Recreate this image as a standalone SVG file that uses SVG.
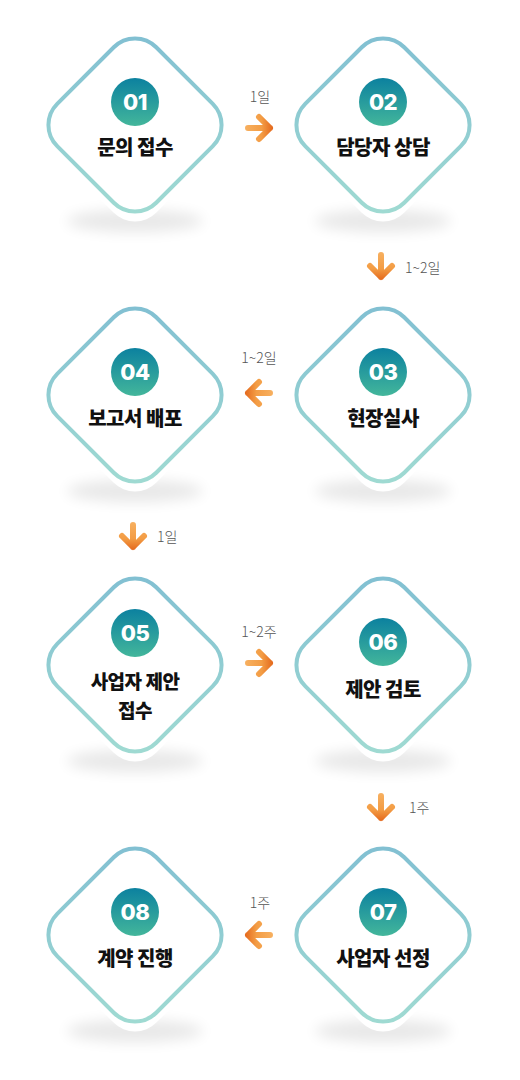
<svg xmlns="http://www.w3.org/2000/svg" xmlns:xlink="http://www.w3.org/1999/xlink" width="520" height="1080" viewBox="0 0 520 1080">
<style>
.num{font-family:Inter,"Open Sans","DejaVu Sans",sans-serif;font-weight:800;font-size:22px;fill:#fff;text-anchor:middle;letter-spacing:-0.5px}
.lbl{font-family:"Noto Sans CJK KR","Noto Sans",sans-serif;font-weight:900;font-size:20px;fill:#111;text-anchor:middle;letter-spacing:-0.5px}
.lbl2{font-size:19px}
.dur{font-family:"Noto Sans CJK KR","Noto Sans",sans-serif;font-weight:300;font-size:14px;fill:#555}
.arr{fill:none;stroke:url(#ag);stroke-width:6;stroke-linecap:round;stroke-linejoin:round}
.frame{fill:#fff;stroke:url(#sg);stroke-width:4}
</style>
<defs>
<path id="dia" d="M-21.21,-77.78 A30,30 0 0 1 21.21,-77.78 L77.78,-21.21 A30,30 0 0 1 77.78,21.21 L21.21,77.78 A30,30 0 0 1 -21.21,77.78 L-77.78,21.21 A30,30 0 0 1 -77.78,-21.21 Z"/>
<linearGradient id="sg" x1="0" y1="0" x2="0" y2="1">
<stop offset="0" stop-color="#82c0d2"/>
<stop offset="1" stop-color="#9fdad2"/>
</linearGradient>
<linearGradient id="cg" x1="0" y1="0" x2="0" y2="1">
<stop offset="0" stop-color="#0c819f"/>
<stop offset="1" stop-color="#43b69b"/>
</linearGradient>
<linearGradient id="ag" gradientUnits="userSpaceOnUse" x1="-14" y1="0" x2="14" y2="0">
<stop offset="0" stop-color="#f7b060"/>
<stop offset="0.6" stop-color="#f39c44"/>
<stop offset="1" stop-color="#e4681c"/>
</linearGradient>
<filter id="blur" x="-50%" y="-100%" width="200%" height="300%">
<feGaussianBlur stdDeviation="7"/>
</filter>
<g id="sh">
<ellipse cx="0" cy="96" rx="68" ry="11" fill="#000" opacity="0.09" filter="url(#blur)"/>
<use xlink:href="#dia" href="#dia" transform="translate(0,10)" fill="#fff"/>
<use xlink:href="#dia" href="#dia" class="frame"/>
</g>
<g id="base">
<use xlink:href="#sh" href="#sh"/>
<circle cx="0" cy="-23" r="24" fill="url(#cg)"/>
</g>
<path id="arrow" class="arr" d="M-11,0 H11 M0,-11 L11,0 L0,11"/>
</defs>

<g id="connectors">
<use xlink:href="#arrow" href="#arrow" transform="translate(259,128)"/>
<text class="dur" x="260" y="102" text-anchor="middle">1일</text>
<use xlink:href="#arrow" href="#arrow" transform="translate(381,266) rotate(90)"/>
<text class="dur" x="405" y="273">1~2일</text>
<use xlink:href="#arrow" href="#arrow" transform="translate(259,393) rotate(180)"/>
<text class="dur" x="259" y="363" text-anchor="middle">1~2일</text>
<use xlink:href="#arrow" href="#arrow" transform="translate(133,536) rotate(90)"/>
<text class="dur" x="157" y="542">1일</text>
<use xlink:href="#arrow" href="#arrow" transform="translate(259,663)"/>
<text class="dur" x="259" y="637" text-anchor="middle">1~2주</text>
<use xlink:href="#arrow" href="#arrow" transform="translate(381,807) rotate(90)"/>
<text class="dur" x="409" y="813">1주</text>
<use xlink:href="#arrow" href="#arrow" transform="translate(259,935) rotate(180)"/>
<text class="dur" x="260" y="908" text-anchor="middle">1주</text>
</g>

<g id="n01" transform="translate(135,125)">
<use xlink:href="#base" href="#base"/>
<text class="num" y="-15">01</text>
<text class="lbl" y="30">문의 접수</text>
</g>
<g id="n02" transform="translate(383,125)">
<use xlink:href="#base" href="#base"/>
<text class="num" y="-15">02</text>
<text class="lbl" y="30">담당자 상담</text>
</g>
<g id="n03" transform="translate(383,395)">
<use xlink:href="#base" href="#base"/>
<text class="num" y="-15">03</text>
<text class="lbl" y="31">현장실사</text>
</g>
<g id="n04" transform="translate(135,395)">
<use xlink:href="#base" href="#base"/>
<text class="num" y="-15">04</text>
<text class="lbl" y="31">보고서 배포</text>
</g>
<g id="n05" transform="translate(135,665)">
<use xlink:href="#sh" href="#sh"/>
<circle cx="0" cy="-32" r="24" fill="url(#cg)"/>
<text class="num" y="-24">05</text>
<text class="lbl lbl2" y="24">사업자 제안</text>
<text class="lbl lbl2" y="53">접수</text>
</g>
<g id="n06" transform="translate(383,665)">
<use xlink:href="#base" href="#base"/>
<text class="num" y="-15">06</text>
<text class="lbl" y="32">제안 검토</text>
</g>
<g id="n07" transform="translate(383,935)">
<use xlink:href="#base" href="#base"/>
<text class="num" y="-15">07</text>
<text class="lbl" y="31">사업자 선정</text>
</g>
<g id="n08" transform="translate(135,935)">
<use xlink:href="#base" href="#base"/>
<text class="num" y="-15">08</text>
<text class="lbl" y="31">계약 진행</text>
</g>
</svg>
